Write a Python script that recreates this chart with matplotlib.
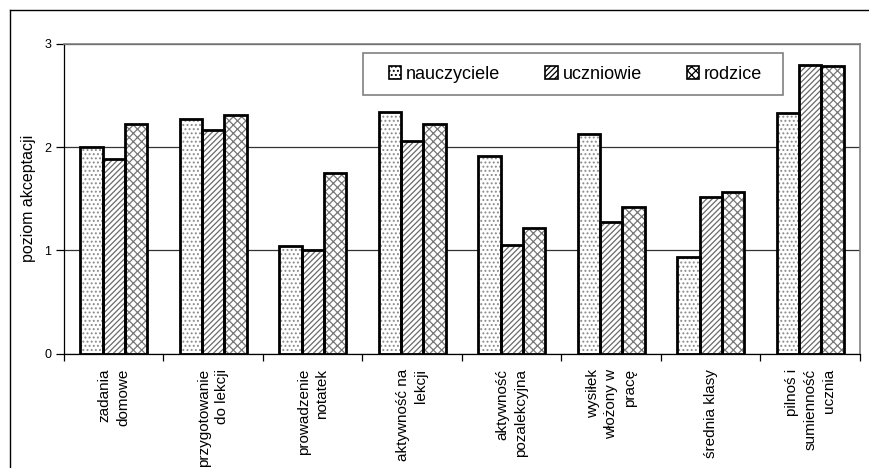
import matplotlib
matplotlib.use('Agg')
import matplotlib.pyplot as plt
from matplotlib.patches import Patch, Rectangle
from matplotlib.lines import Line2D
import numpy as np

plt.rcParams['font.family'] = ['Liberation Sans', 'DejaVu Sans']
plt.rcParams['hatch.linewidth'] = 0.9

# acceptance level per criterion, for each group
categories = ['zadania\ndomowe', 'przygotowanie\ndo lekcji', 'prowadzenie\nnotatek',
              'aktywność na\nlekcji', 'aktywność\npozalekcyjna', 'wysiłek\nwłożony w\npracę',
              'średnia klasy', 'pilnoś i\nsumienność\nucznia']
nauczyciele = [2.00, 2.27, 1.04, 2.34, 1.91, 2.13, 0.94, 2.33]
uczniowie = [1.89, 2.17, 1.00, 2.06, 1.05, 1.27, 1.52, 2.80]
rodzice = [2.22, 2.31, 1.75, 2.22, 1.22, 1.42, 1.57, 2.79]
series_names = ['nauczyciele', 'uczniowie', 'rodzice']

hatches = ['....', '//////', 'xxxx']
hatch_colors = ['#8c8c8c', '#6a6a6a', '#777777']

fig = plt.figure(figsize=(8.7, 4.68), dpi=100)
ax = fig.add_axes([64 / 870, 1 - 353.5 / 468, 796 / 870, 309.5 / 468])

x = np.arange(len(categories))
w = 0.225
for k, vals in enumerate([nauczyciele, uczniowie, rodzice]):
    pos = x + (k - 1) * w
    # pattern first, then a clean black outline on top
    ax.bar(pos, vals, w, color='white', edgecolor=hatch_colors[k], hatch=hatches[k],
           linewidth=0, zorder=3)
    ax.bar(pos, vals, w, color='none', edgecolor='black', linewidth=2.0, zorder=4)

ax.set_xlim(-0.5, len(categories) - 0.5)
ax.set_ylim(0, 3)
ax.set_yticks([0, 1, 2, 3])
ax.yaxis.grid(True, color='#333333', linewidth=0.9, zorder=0)
ax.set_axisbelow(True)

ax.set_xticks(x)
ax.set_xticklabels(categories, rotation=90, fontsize=11, ha='center', va='top',
                   multialignment='right', linespacing=1.4)
ax.set_xticks(np.arange(len(categories) + 1) - 0.5, minor=True)
ax.tick_params(axis='x', which='major', length=0, pad=11)
ax.tick_params(axis='x', which='minor', length=5, width=0.9)
ax.tick_params(axis='y', length=6, width=0.9, labelsize=9, pad=3)

for s in ['left', 'bottom']:
    ax.spines[s].set_color('black')
    ax.spines[s].set_linewidth(0.9)
for s in ['top', 'right']:
    ax.spines[s].set_color('#808080')
    ax.spines[s].set_linewidth(1.2)

ax.set_ylabel('poziom akceptacji', fontsize=11.5, labelpad=6)

# legend box drawn separately so the entries can sit with a wide left margin
box = Rectangle((0.3756, 0.835), 0.5277, 0.136, transform=ax.transAxes,
                facecolor='white', edgecolor='#808080', linewidth=1.2, zorder=5)
ax.add_patch(box)
handles = [Patch(facecolor='white', edgecolor='black', hatch=h, linewidth=1.2)
           for h in hatches]
leg = ax.legend(handles, series_names, ncol=3, loc='center left',
                bbox_to_anchor=(0.408, 0.903), borderaxespad=0, borderpad=0,
                fontsize=13, frameon=False, handlelength=0.7, handleheight=0.7,
                handletextpad=0.25, columnspacing=2.5)
leg.set_zorder(6)

# outer chart frame
fig.add_artist(Line2D([10 / 870, 10 / 870], [0, 1 - 10 / 468], color='black', lw=1,
                      transform=fig.transFigure))
fig.add_artist(Line2D([10 / 870, 1], [1 - 10 / 468, 1 - 10 / 468], color='black', lw=1,
                      transform=fig.transFigure))

fig.savefig('out.png', dpi=100)
